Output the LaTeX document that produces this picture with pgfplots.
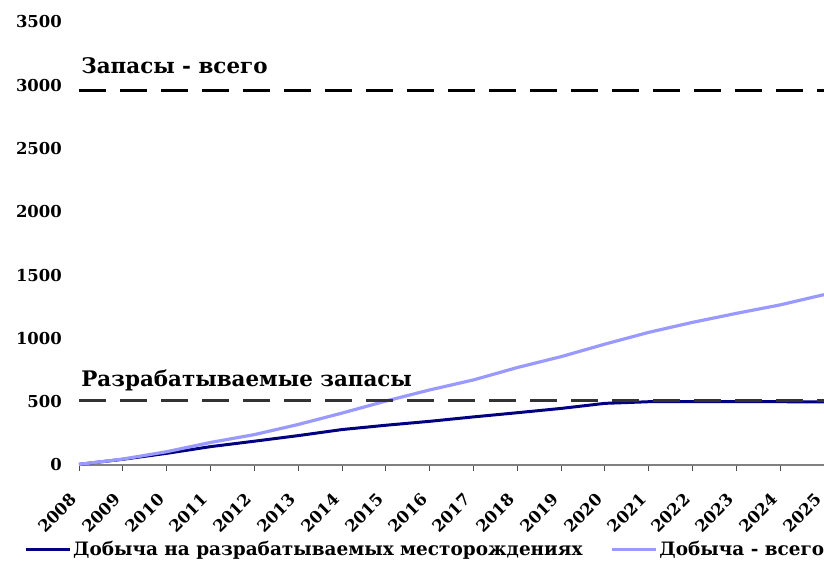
\documentclass[border=0pt]{standalone}
\usepackage{pgfplots}
\pgfplotsset{compat=1.18}
\usetikzlibrary{calc}
\usepackage{fontspec}
\setmainfont{DejaVu Serif}
\definecolor{navyc}{HTML}{000080}
\definecolor{lightc}{HTML}{9999FF}
\definecolor{darkd}{HTML}{333333}
\begin{document}
\begin{tikzpicture}[x=1bp,y=1bp]
\begin{axis}[
  name=ax,
  scale only axis,
  width=745bp, height=443bp,
  xmin=2008, xmax=2025,
  ymin=0, ymax=3500,
  xtick={2008,...,2025},
  ytick={0,500,...,3500},
  axis y line*=left,
  y axis line style={draw=none},
  ytick style={draw=none},
  axis x line*=bottom,
  x axis line style={draw=gray, line width=1.2pt, -},
  xtick style={draw=black!70, line width=0.8pt},
  major tick length=6bp,
  xtick align=outside,
  clip=false,
  /pgf/number format/assume math mode=true,
  /pgf/number format/1000 sep={},
  xticklabel style={font=\fontsize{16.5}{17}\selectfont\bfseries, xshift=-10bp, yshift=-21bp, rotate=45, anchor=north east, inner sep=0pt},
  yticklabel style={font=\fontsize{16.5}{17}\selectfont\bfseries, anchor=east, inner sep=0pt, xshift=-17bp},
  legend style={at={(-0.0738,-0.168)}, anchor=north west, draw=none, font=\fontsize{18.5}{20}\selectfont\bfseries, legend columns=2, /tikz/every even column/.append style={column sep=26bp}, inner sep=0pt, legend cell align=left},
  legend image code/.code={\draw[#1, line width=3pt] (0bp,0bp) -- (44bp,0bp);},
]
\addplot[navyc, line width=3pt] coordinates {
(2008,5) (2009,45) (2010,92) (2011,145) (2012,188) (2013,232) (2014,280) (2015,314) (2016,345) (2017,380) (2018,413) (2019,447) (2020,487) (2021,500) (2022,500) (2023,500) (2024,500) (2025,498)};
\addlegendentry{Добыча на разрабатываемых месторождениях}
\addplot[lightc, line width=3.2pt] coordinates {
(2008,5) (2009,47) (2010,105) (2011,178) (2012,240) (2013,320) (2014,410) (2015,505) (2016,593) (2017,672) (2018,770) (2019,856) (2020,955) (2021,1048) (2022,1127) (2023,1198) (2024,1265) (2025,1346)};
\addlegendentry{Добыча - всего}
\addplot[black, line width=3.6pt, dash pattern=on 27bp off 14bp, forget plot] coordinates {(2008,2960) (2025,2960)};
\addplot[darkd, line width=3.6pt, dash pattern=on 27bp off 14bp, forget plot] coordinates {(2008,510) (2025,510)};
\node[anchor=base west, font=\fontsize{21.5}{22}\selectfont\bfseries, inner sep=0pt] at (axis cs:2008.05,2960) [yshift=17bp] {Запасы - всего};
\node[anchor=base west, font=\fontsize{21.5}{22}\selectfont\bfseries, inner sep=0pt] at (axis cs:2008.05,510) [yshift=14bp] {Разрабатываемые запасы};
\end{axis}
\pgfresetboundingbox
\useasboundingbox (ax.south west) ++(-79bp,-105bp) rectangle ($(ax.north east)+(0bp,22bp)$);
\end{tikzpicture}
\end{document}
